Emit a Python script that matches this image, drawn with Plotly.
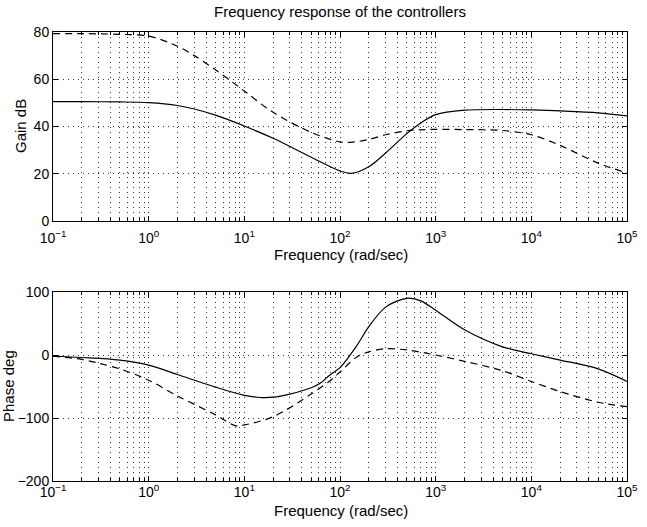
import plotly.graph_objects as go
from plotly.subplots import make_subplots

# Frequency points (rad/sec) for the gain curves
freq_gain = [0.1, 0.2, 0.5, 1, 2, 3, 5, 10, 20, 50, 100, 130, 200, 300, 500,
             700, 1000, 2000, 5000, 10000, 20000, 50000, 100000]
# Controller 1 (solid) gain, dB
gain_c1 = [50.5, 50.5, 50.4, 50.1, 48.9, 47.4, 44.8, 40.2, 35.0, 27.0, 21.2, 20.2,
           23.0, 28.8, 37.0, 41.5, 45.0, 46.9, 47.2, 47.0, 46.6, 45.8, 44.5]
# Controller 2 (dashed) gain, dB
gain_c2 = [79.3, 79.3, 79.0, 78.3, 74.0, 70.0, 64.0, 55.0, 46.0, 37.5, 33.5, 33.3,
           34.5, 36.5, 38.2, 38.6, 38.8, 38.7, 38.3, 36.5, 32.0, 24.5, 20.3]

# Frequency points (rad/sec) for the phase curves
freq_phase_c1 = [0.1, 0.2, 0.5, 1, 2, 5, 10, 15, 20, 30, 50, 62, 78, 100, 150,
                 200, 300, 500, 700, 1000, 2000, 5000, 10000, 20000, 50000, 100000]
phase_c1 = [-2, -4, -8, -16, -31, -51, -64, -67.5, -67, -62, -52, -45, -32, -20, 15,
            45, 76, 90, 86, 71, 40, 13, 2, -8, -22, -42]

freq_phase_c2 = [0.1, 0.2, 0.3, 0.5, 1, 2, 5, 8, 10, 20, 50, 80, 100, 150, 200,
                 300, 500, 1000, 2000, 5000, 10000, 20000, 50000, 100000]
phase_c2 = [-2, -7, -13, -22, -40, -65, -95, -112, -111, -98, -62, -40, -27, -3, 5,
            10, 8, 0, -10, -25, -42, -58, -75, -82]

decades = [0.1, 1, 10, 100, 1000, 10000, 100000]
decade_text = ["10<sup>\u22121</sup>", "10<sup>0</sup>", "10<sup>1</sup>", "10<sup>2</sup>",
               "10<sup>3</sup>", "10<sup>4</sup>", "10<sup>5</sup>"]
minor_vals = [m * d for d in decades[:-1] for m in range(2, 10)]

gain_ticks = [0, 20, 40, 60, 80]
phase_ticks = [-200, -100, 0, 100]

FONT = "Liberation Sans, Arial, Helvetica, sans-serif"
TICK_SIZE = 14
LABEL_SIZE = 15
W, H = 647, 527
L, R, T, B = 53, 20, 32, 46
plot_w = W - L - R
plot_h = H - T - B
top_dom = [(481 - 221) / plot_h, 1.0]
bot_dom = [0.0, (481 - 292) / plot_h]


def py(px):
    """Pixel row -> paper y."""
    return (H - B - px) / plot_h


def px_x(px):
    """Pixel column -> paper x."""
    return (px - L) / plot_w


fig = make_subplots(rows=2, cols=1)

line_solid = dict(color="black", width=1.2, shape="spline", smoothing=0.9)
line_dash = dict(color="black", width=1.2, shape="spline", smoothing=0.9, dash="7px,5px")

fig.add_trace(go.Scatter(x=freq_gain, y=gain_c1, mode="lines", line=line_solid,
                         showlegend=False), row=1, col=1)
fig.add_trace(go.Scatter(x=freq_gain, y=gain_c2, mode="lines", line=line_dash,
                         showlegend=False), row=1, col=1)
fig.add_trace(go.Scatter(x=freq_phase_c1, y=phase_c1, mode="lines", line=line_solid,
                         showlegend=False), row=2, col=1)
fig.add_trace(go.Scatter(x=freq_phase_c2, y=phase_c2, mode="lines", line=line_dash,
                         showlegend=False), row=2, col=1)

grid = dict(showgrid=True, gridcolor="#333", griddash="1px,4px", gridwidth=1)
xcommon = dict(
    type="log", range=[-1, 5], tickmode="array", tickvals=decades, ticktext=decade_text,
    ticks="inside", ticklen=5, tickcolor="black", showline=True, linecolor="black",
    linewidth=1, mirror="ticks", zeroline=False,
    tickfont=dict(family=FONT, size=TICK_SIZE, color="black"),
    minor=dict(tickmode="array", tickvals=minor_vals, ticks="inside", ticklen=3,
               tickcolor="black", **grid),
    automargin=False,
    **grid,
)
ycommon = dict(
    ticks="inside", ticklen=5, tickcolor="black", showline=True, linecolor="black",
    linewidth=1, mirror="ticks", zeroline=False, tickmode="array",
    tickfont=dict(family=FONT, size=TICK_SIZE, color="black"), automargin=False,
    **grid,
)

fig.update_xaxes(**xcommon)
fig.update_layout(
    xaxis=dict(domain=[0, 1], ticklabelstandoff=4),
    xaxis2=dict(domain=[0, 1], ticklabelstandoff=-2),
    yaxis=dict(domain=top_dom, range=[0, 80], tickvals=gain_ticks, **ycommon),
    yaxis2=dict(domain=bot_dom, range=[-200, 100], tickvals=phase_ticks, **ycommon),
    title=dict(text="Frequency response of the controllers", x=(L + plot_w / 2) / W,
               xanchor="center", y=1 - 12 / H, yanchor="middle", yref="container",
               font=dict(family=FONT, size=LABEL_SIZE, color="black")),
    width=W, height=H,
    margin=dict(l=L, r=R, t=T, b=B),
    paper_bgcolor="white", plot_bgcolor="white",
)

label_font = dict(family=FONT, size=LABEL_SIZE, color="black")
axis_titles = [
    ("Frequency (rad/sec)", px_x(341), py(254), 0),
    ("Frequency (rad/sec)", px_x(341), py(510), 0),
    ("Gain dB", px_x(21), py(126), -90),
    ("Phase deg", px_x(8), py(386), -90),
]
for text, ax, ay, ang in axis_titles:
    fig.add_annotation(text=text, x=ax, y=ay, xref="paper", yref="paper",
                       xanchor="center", yanchor="middle", showarrow=False,
                       textangle=ang, font=label_font)

fig.write_html("out.html")
